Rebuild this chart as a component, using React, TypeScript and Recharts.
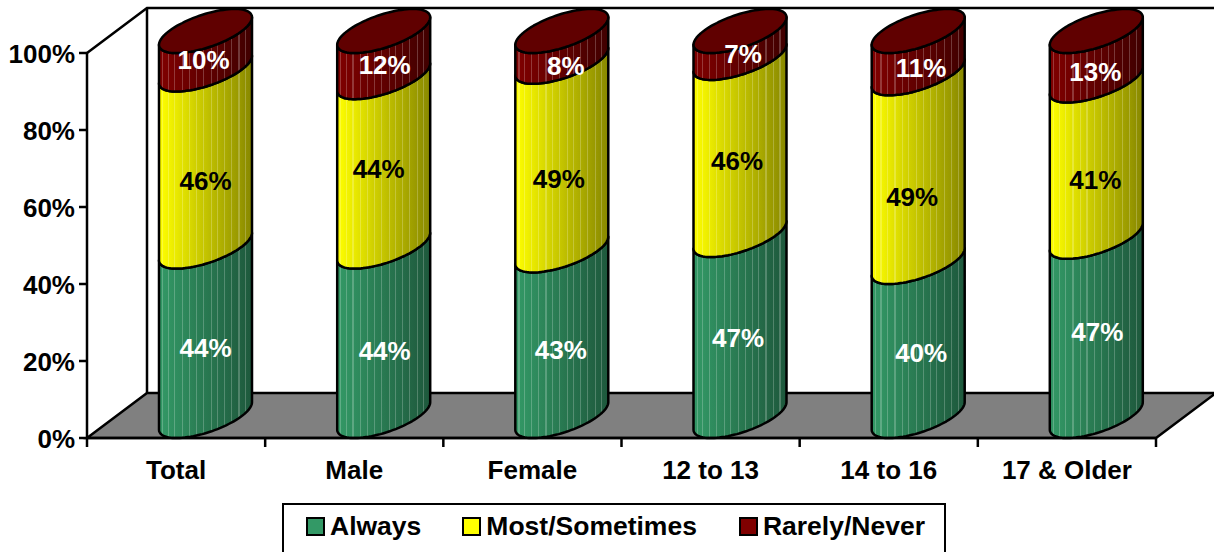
import { Bar, BarChart, LabelList, Legend, XAxis, YAxis, usePlotArea } from 'recharts'

const categories = ['Total', 'Male', 'Female', '12 to 13', '14 to 16', '17 & Older']
const always = [44, 44, 43, 47, 40, 47]
const mostSometimes = [46, 44, 49, 46, 49, 41]
const rarelyNever = [10, 12, 8, 7, 11, 13]
const percentTicks = [0, 0.2, 0.4, 0.6, 0.8, 1]
const bandEdges = [0, 1, 2, 3, 4, 5, 6]

const chartData = categories.map((category, i) => ({
  category,
  edge: i,
  always: always[i],
  mostSometimes: mostSometimes[i],
  rarelyNever: rarelyNever[i],
}))

// the labels were hand placed in the original chart
const nudgeAlways = [[0, -5], [1, -2], [-1, -5], [-2, -10], [3, -8], [1, -17]]
const nudgeMost = [[0, 1], [-5, -15], [-3, 1], [-3, -8], [-6, 7], [-1, -1]]
const nudgeRarely = [[-2, -12], [1, -11], [4, -3], [3, -13], [3, -6], [-1, -6]]

const FONT = '"Liberation Sans", Arial, sans-serif'
const WALL_X = 60
const WALL_Y = 45
// cylinder sits halfway back on the floor
const MID_X = 29
const MID_Y = 22
const BAR_WIDTH = 93

const stripes = [0.04, 0.1, 0.17, 0.25, 0.33, 0.4, 0.48, 0.56, 0.63, 0.7, 0.78, 0.86, 0.93]

const gradients = [
  { id: 'grad-green', from: [51, 153, 102], to: [30, 88, 60] },
  { id: 'grad-yellow', from: [255, 255, 0], to: [136, 136, 0] },
  { id: 'grad-red', from: [128, 0, 0], to: [64, 0, 0] },
]

const mix = (a: number[], b: number[], p: number, lift = 0) =>
  `rgb(${a.map((v, i) => Math.round(v + (b[i] - v) * p + (255 - (v + (b[i] - v) * p)) * lift)).join(',')})`

function Gradient({ id, from, to }: { id: string; from: number[]; to: number[] }) {
  return (
    <linearGradient id={id} x1='0' x2='1' y1='0' y2='0'>
      <stop offset={0} stopColor={mix(from, to, 0)} />
      {stripes.flatMap((p) => [
        <stop key={`${p}a`} offset={p - 0.006} stopColor={mix(from, to, p)} />,
        <stop key={`${p}b`} offset={p - 0.006} stopColor={mix(from, to, p, 0.22)} />,
        <stop key={`${p}c`} offset={p + 0.006} stopColor={mix(from, to, p, 0.22)} />,
        <stop key={`${p}d`} offset={p + 0.006} stopColor={mix(from, to, p)} />,
      ])}
      <stop offset={1} stopColor={mix(from, to, 1)} />
    </linearGradient>
  )
}

// points of the front half of a skewed ellipse, left end to right end
function frontArc(cx: number, cy: number, radius: number) {
  const a = Math.sqrt(radius * radius - MID_X * MID_X)
  const phi = Math.atan2(MID_X, a)
  const pts: [number, number][] = []
  for (let k = 0; k <= 48; k++) {
    const t = phi + Math.PI + (k / 48) * Math.PI
    pts.push([cx + a * Math.cos(t) + MID_X * Math.sin(t), cy - MID_Y * Math.sin(t)])
  }
  return pts
}

const toPath = (pts: [number, number][]) =>
  pts.map(([x, y], i) => `${i ? 'L' : 'M'}${x.toFixed(1)} ${y.toFixed(1)}`).join(' ')

function Cylinder(props: any) {
  const { x, y, width, height, gradient, capColor } = props
  const radius = width / 2
  const cx = x + radius + MID_X
  const top = y - MID_Y
  const bottom = y + height - MID_Y
  const lowerArc = frontArc(cx, bottom, radius)
  const upperArc = frontArc(cx, top, radius).reverse()
  const body = toPath([...lowerArc, ...upperArc]) + ' Z'
  const a = Math.sqrt(radius * radius - MID_X * MID_X)
  const backArc: [number, number][] = []
  for (let k = 0; k <= 48; k++) {
    const t = Math.atan2(MID_X, a) + (k / 48) * Math.PI
    backArc.push([cx + a * Math.cos(t) + MID_X * Math.sin(t), top - MID_Y * Math.sin(t)])
  }
  const cap = toPath([...backArc, ...frontArc(cx, top, radius)]) + ' Z'
  return (
    <g>
      <path d={body} fill={`url(#${gradient})`} stroke='#000' strokeWidth={2.5} strokeLinejoin='round' />
      {capColor && <path d={cap} fill={capColor} stroke='#000' strokeWidth={2.5} strokeLinejoin='round' />}
    </g>
  )
}

function Frame() {
  const plot = usePlotArea()
  if (!plot) return null
  const { x, y, width, height } = plot
  const left = x
  const right = x + width
  const bottom = y + height
  return (
    <g fill='none' stroke='#000' strokeWidth={2.5}>
      <path d={`M${left} ${y} L${left + WALL_X} ${y - WALL_Y} H${right + WALL_X + 10}`} />
      <path d={`M${left + WALL_X} ${y - WALL_Y} V${bottom - WALL_Y}`} />
      <path
        d={`M${left} ${bottom} L${left + WALL_X} ${bottom - WALL_Y} H${right + WALL_X} L${right} ${bottom} Z`}
        fill='#808080'
      />
    </g>
  )
}

function PercentLabel(props: any) {
  const { x, y, width, height, value, index, nudge, color } = props
  const [dx, dy] = nudge[index]
  return (
    <text
      x={x + width / 2 + MID_X + dx}
      y={y + height / 2 + dy}
      dy='0.35em'
      textAnchor='middle'
      fill={color}
      fontFamily={FONT}
      fontWeight='bold'
      fontSize={26}
    >
      {value}%
    </text>
  )
}

function LegendBox({ payload }: any) {
  return (
    <div
      style={{
        boxSizing: 'border-box',
        width: 664,
        height: 60,
        border: '2px solid #000',
        background: '#fff',
        display: 'flex',
        paddingLeft: 22,
        paddingTop: 6,
        fontFamily: FONT,
        fontWeight: 'bold',
        fontSize: 26.5,
        lineHeight: '30px',
      }}
    >
      {(payload ?? []).map((entry: any, i: number) => (
        <div key={entry.value} style={{ display: 'flex', alignItems: 'center', height: 30, marginRight: i === 0 ? 41 : 42 }}>
          <span
            style={{
              boxSizing: 'border-box',
              width: 19,
              height: 19,
              marginRight: 5,
              border: '2px solid #000',
              background: entry.color,
            }}
          />
          <span>{entry.value}</span>
        </div>
      ))}
    </div>
  )
}

export default function App() {
  const axisFont = { fontFamily: FONT, fontWeight: 'bold', fontSize: 26, fill: '#000' }
  return (
    <div style={{ position: 'absolute', left: 0, top: 0, width: 1214, height: 552, overflow: 'hidden' }}>
      <BarChart
        width={1214}
        height={552}
        data={chartData}
        stackOffset='expand'
        barSize={BAR_WIDTH}
        margin={{ top: 53, right: 58, bottom: 16, left: 0 }}
      >
        <defs>
          {gradients.map((g) => (
            <Gradient key={g.id} {...g} />
          ))}
        </defs>
        <Frame />
        <YAxis
          type='number'
          width={87}
          domain={[0, 1]}
          ticks={percentTicks}
          tickFormatter={(v) => `${Math.round(v * 100)}%`}
          tick={{ ...axisFont, dy: 1 }}
          tickSize={8}
          tickMargin={4}
          interval={0}
          axisLine={{ stroke: '#000', strokeWidth: 2.5 }}
          tickLine={{ stroke: '#000', strokeWidth: 2.5 }}
        />
        {/* number axis only carries the tick marks between the categories */}
        <XAxis
          dataKey='edge'
          type='number'
          domain={[0, 6]}
          allowDataOverflow
          ticks={bandEdges}
          interval={0}
          height={1}
          tickFormatter={() => ''}
          tickSize={9}
          axisLine={{ stroke: '#000', strokeWidth: 2.5 }}
          tickLine={{ stroke: '#000', strokeWidth: 2.5 }}
        />
        <XAxis
          xAxisId={1}
          dataKey='category'
          height={48}
          interval={0}
          axisLine={false}
          tickLine={false}
          tick={axisFont}
          tickMargin={16}
        />
        <Bar
          xAxisId={1}
          dataKey='always'
          name='Always'
          stackId='a'
          fill='#339966'
          isAnimationActive={false}
          shape={(p: any) => <Cylinder {...p} gradient='grad-green' />}
        >
          <LabelList dataKey='always' content={(p: any) => <PercentLabel {...p} nudge={nudgeAlways} color='#fff' />} />
        </Bar>
        <Bar
          xAxisId={1}
          dataKey='mostSometimes'
          name='Most/Sometimes'
          stackId='a'
          fill='#ffff00'
          isAnimationActive={false}
          shape={(p: any) => <Cylinder {...p} gradient='grad-yellow' />}
        >
          <LabelList dataKey='mostSometimes' content={(p: any) => <PercentLabel {...p} nudge={nudgeMost} color='#000' />} />
        </Bar>
        <Bar
          xAxisId={1}
          dataKey='rarelyNever'
          name='Rarely/Never'
          stackId='a'
          fill='#800000'
          isAnimationActive={false}
          shape={(p: any) => <Cylinder {...p} gradient='grad-red' capColor='#600000' />}
        >
          <LabelList dataKey='rarelyNever' content={(p: any) => <PercentLabel {...p} nudge={nudgeRarely} color='#fff' />} />
        </Bar>
        <Legend
          content={<LegendBox />}
          wrapperStyle={{ position: 'absolute', left: 282, top: 503, width: 664, height: 49 }}
        />
      </BarChart>
    </div>
  )
}
